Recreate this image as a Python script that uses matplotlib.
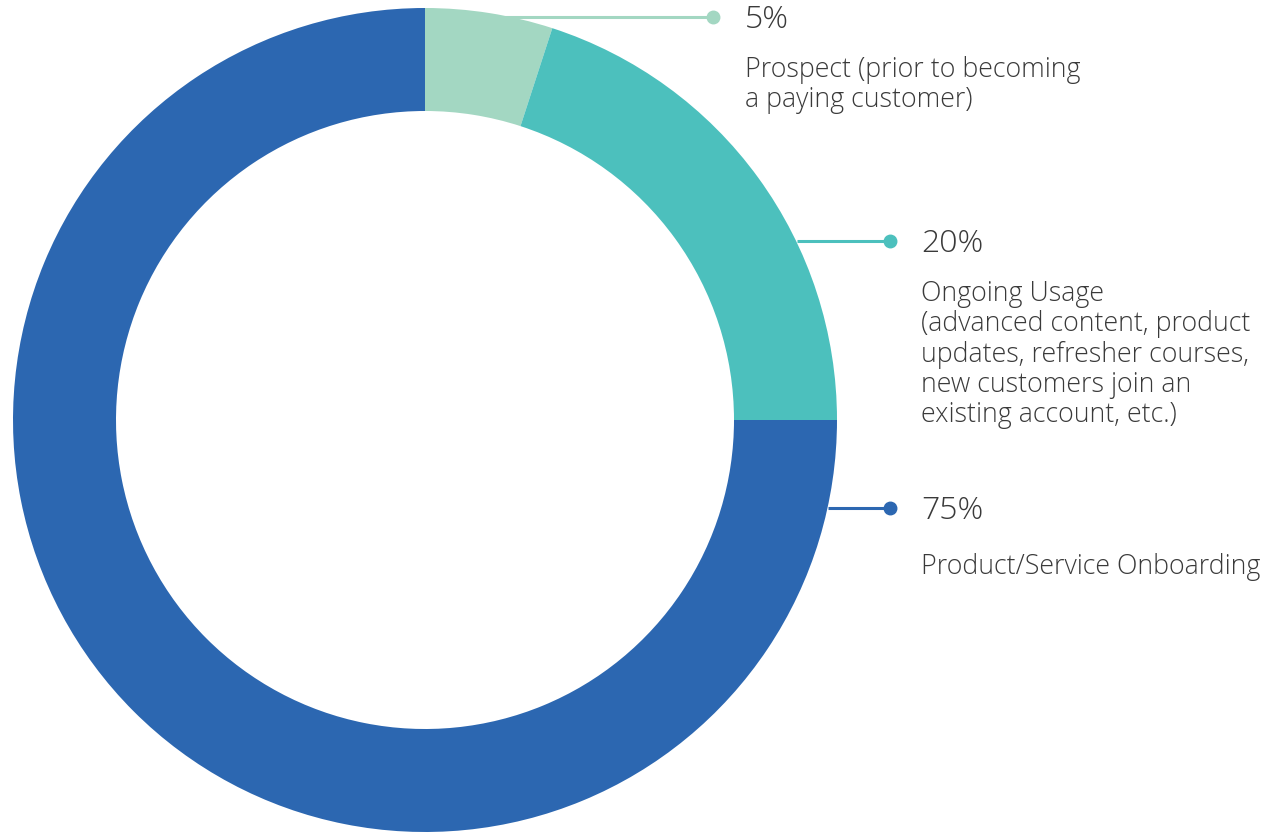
import numpy as np
import matplotlib.pyplot as plt

plt.rcParams['font.family'] = ['Open Sans', 'DejaVu Sans']

# data
stages = ['Prospect (prior to becoming\na paying customer)',
          'Ongoing Usage\n(advanced content, product\nupdates, refresher courses,\nnew customers join an\nexisting account, etc.)',
          'Product/Service Onboarding']
shares = [5, 20, 75]
pct_labels = ['5%', '20%', '75%']
colors = ['#a3d7c2', '#4cc0bd', '#2c67b1']

W, H = 1279, 834
fig = plt.figure(figsize=(W / 100, H / 100), dpi=100)
ax = fig.add_axes([0, 0, 1, 1])

# donut (pixel coordinates, y measured from bottom)
cx, cy, r_out, r_in = 425, H - 420, 412, 309
ax.pie(shares, colors=colors, startangle=90, counterclock=False,
       center=(cx, cy), radius=r_out,
       wedgeprops=dict(width=r_out - r_in, linewidth=0))

# leader lines + labels: (line x start, line x end, line y, text x, pct y, desc top y)
layout = [
    (505, 713, 17, 745, 20, 56),
    (797, 890, 241, 921, 244, 280),
    (828, 890, 508, 921, 511, 553),
]
txt_color = '#3a3a3a'
for (x0, x1, ly, tx, py, dy), c, pct, desc in zip(layout, colors, pct_labels, stages):
    ax.plot([x0, x1], [H - ly, H - ly], color=c, lw=2.2, solid_capstyle='butt', zorder=3)
    ax.plot([x1], [H - ly], 'o', color=c, ms=9, zorder=4)
    ax.text(tx, H - py, pct, fontsize=23, fontweight='light', color=txt_color,
            ha='left', va='center')
    ax.text(tx, H - dy, desc, fontsize=19.3, fontweight='light', color=txt_color,
            ha='left', va='top', linespacing=1.11)

ax.set_xlim(0, W)
ax.set_ylim(0, H)
ax.set_aspect('equal')
ax.axis('off')

fig.savefig('out.png', dpi=100)
